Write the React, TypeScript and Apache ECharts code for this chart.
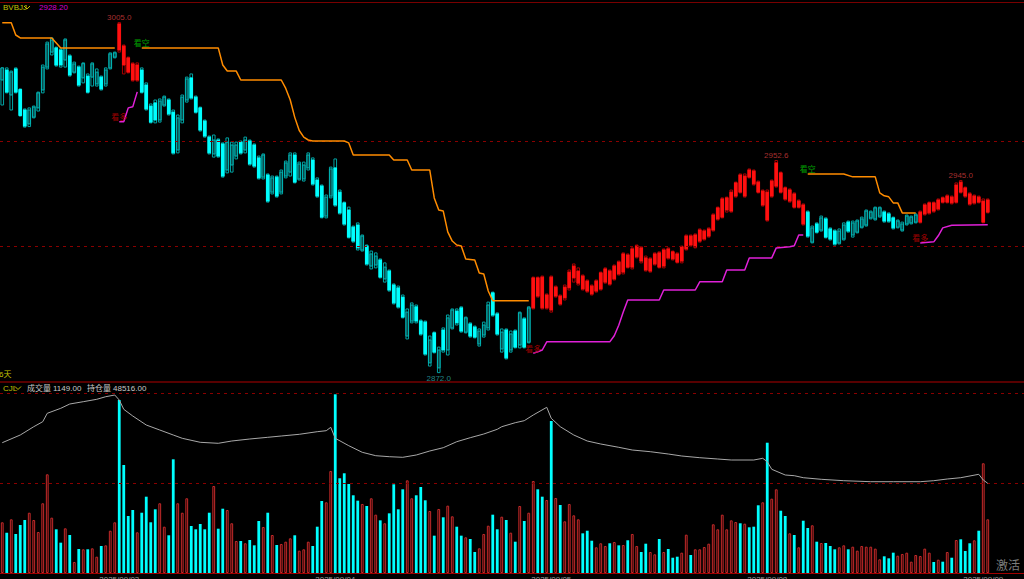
import React, { useEffect, useRef } from "react";
import * as echarts from "echarts";

const dayDates = ["2025/09/02", "2025/09/03", "2025/09/04", "2025/09/05", "2025/09/08", "2025/09/09"];
const dayBarCounts = [26, 48, 48, 48, 48, 2];
const futureSlots = 8;

const opens = [
  2983.2, 2987.0, 2977.5, 2987.4, 2979.6, 2971.8, 2966.5, 2969.1, 2972.6, 2979.4,
  2988.1, 2993.8, 2995.4, 2994.6, 2990.8, 2992.3, 2986.2, 2988.1, 2984.0, 2984.7,
  2984.3, 2981.7, 2984.3, 2981.7, 2987.8, 2991.9, 3004.5, 2996.1, 2991.6, 2989.3,
  2983.2, 2987.0, 2981.3, 2973.3, 2974.5, 2968.0, 2973.7, 2975.6, 2971.0, 2956.6,
  2968.0, 2975.6, 2984.0, 2976.7, 2972.6, 2967.6, 2961.5, 2955.1, 2960.4, 2958.9,
  2949.0, 2950.9, 2954.3, 2959.6, 2956.6, 2960.0, 2958.5, 2953.6, 2946.3, 2947.1,
  2940.6, 2946.3, 2940.6, 2946.7, 2948.2, 2954.7, 2945.6, 2945.6, 2949.8, 2952.8,
  2945.2, 2942.9, 2931.5, 2939.1, 2949.8, 2940.6, 2936.5, 2933.8, 2927.3, 2928.1,
  2918.6, 2920.1, 2912.5, 2912.9, 2914.8, 2907.6, 2910.6, 2905.3, 2904.2, 2900.7,
  2885.9, 2891.6, 2897.0, 2891.6, 2891.2, 2875.7, 2887.1, 2873.8, 2888.2, 2880.6,
  2889.0, 2895.4, 2896.6, 2887.4, 2890.5, 2889.3, 2882.9, 2886.3, 2889.0, 2902.3,
  2894.3, 2881.0, 2888.2, 2880.6, 2887.8, 2882.5, 2892.4, 2883.6, 2896.6, 2908.0,
  2908.3, 2896.6, 2908.3, 2901.1, 2901.1, 2900.4, 2904.2, 2908.0, 2906.0, 2908.7,
  2906.8, 2904.9, 2903.0, 2903.8, 2906.4, 2910.6, 2907.6, 2914.0, 2910.2, 2916.7,
  2912.1, 2916.0, 2919.4, 2915.6, 2910.6, 2913.3, 2917.5, 2912.5, 2919.0, 2917.9,
  2917.1, 2914.4, 2919.0, 2923.9, 2919.8, 2922.0, 2922.8, 2923.9, 2926.2, 2930.4,
  2931.1, 2933.8, 2933.4, 2939.1, 2947.1, 2939.1, 2949.0, 2948.6, 2944.4, 2935.7,
  2940.6, 2939.1, 2942.9, 2947.9, 2942.2, 2937.2, 2939.9, 2934.9, 2935.7, 2933.0,
  2921.6, 2928.5, 2926.2, 2930.4, 2926.6, 2925.8, 2921.3, 2922.8, 2929.2, 2924.3,
  2925.4, 2927.3, 2928.1, 2930.8, 2930.4, 2931.5, 2933.0, 2932.3, 2930.8, 2927.3,
  2926.2, 2928.5, 2928.9, 2929.2, 2929.2, 2932.3, 2932.7, 2936.5, 2934.2, 2938.4,
  2936.8, 2938.7, 2936.8, 2944.4, 2942.2, 2939.9, 2936.5, 2938.7, 2929.2, 2933.0,
];
const closes = [
  2987.8, 2978.6, 2986.2, 2978.6, 2969.7, 2965.7, 2971.8, 2972.9, 2978.3, 2988.1,
  2996.9, 2998.4, 2988.9, 2988.9, 2998.4, 2985.1, 2989.3, 2981.3, 2989.4, 2978.6,
  2989.3, 2986.2, 2979.8, 2987.0, 2993.1, 2993.5, 2994.6, 2988.9, 2986.2, 2983.2,
  2988.9, 2978.6, 2972.2, 2967.2, 2968.0, 2975.2, 2976.7, 2970.3, 2955.5, 2968.8,
  2976.7, 2983.6, 2976.4, 2971.0, 2964.2, 2961.9, 2955.5, 2960.4, 2954.3, 2946.7,
  2959.6, 2958.5, 2958.5, 2955.5, 2960.4, 2951.3, 2950.5, 2946.0, 2954.7, 2937.2,
  2946.0, 2939.1, 2948.2, 2951.7, 2954.7, 2944.4, 2951.3, 2950.9, 2954.7, 2943.7,
  2939.1, 2931.1, 2938.7, 2949.4, 2935.7, 2932.7, 2928.5, 2923.5, 2922.0, 2919.4,
  2923.9, 2913.3, 2917.1, 2916.3, 2908.3, 2912.1, 2903.4, 2898.5, 2897.0, 2893.1,
  2895.0, 2897.7, 2891.6, 2886.7, 2879.1, 2884.4, 2879.8, 2880.6, 2880.6, 2892.8,
  2895.8, 2890.9, 2887.8, 2892.8, 2885.9, 2885.5, 2887.8, 2890.1, 2897.7, 2893.9,
  2886.7, 2887.4, 2877.6, 2886.7, 2881.7, 2894.7, 2881.7, 2896.6, 2908.0, 2901.1,
  2896.6, 2901.5, 2895.8, 2904.5, 2898.1, 2904.5, 2910.2, 2912.5, 2910.6, 2903.8,
  2903.0, 2901.9, 2906.8, 2909.9, 2911.4, 2905.7, 2912.5, 2909.5, 2917.1, 2912.1,
  2919.0, 2920.1, 2914.4, 2911.0, 2915.2, 2917.1, 2912.1, 2918.6, 2915.6, 2915.2,
  2914.0, 2919.8, 2923.9, 2920.5, 2924.3, 2926.2, 2925.8, 2926.6, 2931.9, 2934.6,
  2938.0, 2938.4, 2940.6, 2944.1, 2940.6, 2946.7, 2946.3, 2943.7, 2940.6, 2941.0,
  2930.0, 2944.8, 2951.7, 2940.6, 2938.0, 2941.4, 2934.9, 2937.2, 2928.5, 2923.9,
  2927.0, 2925.4, 2930.8, 2923.5, 2922.8, 2920.9, 2925.8, 2928.1, 2925.8, 2928.9,
  2929.6, 2930.4, 2933.4, 2933.0, 2934.6, 2934.6, 2929.6, 2929.6, 2927.0, 2929.6,
  2928.5, 2931.5, 2931.1, 2931.9, 2933.0, 2935.7, 2936.5, 2933.4, 2937.6, 2936.8,
  2939.1, 2936.5, 2943.3, 2940.6, 2939.1, 2936.1, 2939.1, 2936.8, 2937.2, 2937.6,
];
const lows = [
  2973.7, 2978.3, 2971.8, 2978.3, 2969.5, 2965.3, 2965.5, 2968.8, 2971.4, 2978.3,
  2987.4, 2992.7, 2988.5, 2988.1, 2988.1, 2984.7, 2985.9, 2980.9, 2982.1, 2978.3,
  2980.9, 2980.9, 2979.4, 2980.9, 2987.4, 2991.6, 2993.8, 2985.5, 2985.9, 2982.8,
  2982.8, 2978.3, 2971.8, 2966.9, 2966.9, 2967.2, 2973.3, 2969.9, 2955.1, 2955.5,
  2966.9, 2974.8, 2976.0, 2970.7, 2963.8, 2961.5, 2955.1, 2953.9, 2953.9, 2946.3,
  2947.9, 2948.2, 2953.2, 2955.1, 2955.5, 2950.9, 2950.1, 2945.6, 2945.6, 2936.8,
  2939.9, 2938.7, 2939.9, 2946.0, 2946.7, 2944.1, 2945.2, 2944.8, 2949.0, 2943.3,
  2938.7, 2930.8, 2930.8, 2938.4, 2935.3, 2932.3, 2928.1, 2923.2, 2921.6, 2918.6,
  2918.2, 2912.9, 2911.4, 2911.8, 2908.0, 2906.4, 2903.0, 2898.1, 2896.6, 2892.8,
  2884.8, 2890.9, 2890.9, 2886.3, 2878.7, 2874.5, 2879.5, 2872.0, 2879.8, 2878.7,
  2888.6, 2890.1, 2887.4, 2887.1, 2885.5, 2885.2, 2882.1, 2885.5, 2888.2, 2893.5,
  2886.3, 2879.8, 2877.2, 2879.8, 2881.4, 2881.4, 2881.4, 2883.3, 2896.2, 2900.7,
  2896.2, 2896.2, 2895.0, 2900.7, 2897.7, 2899.6, 2903.4, 2906.4, 2905.3, 2903.4,
  2902.6, 2901.5, 2902.6, 2903.4, 2906.0, 2905.3, 2907.2, 2909.1, 2909.5, 2911.8,
  2911.4, 2915.6, 2913.7, 2910.6, 2910.2, 2912.9, 2911.8, 2911.8, 2915.2, 2914.8,
  2913.7, 2913.7, 2918.6, 2920.1, 2919.4, 2921.6, 2922.4, 2923.5, 2925.8, 2930.0,
  2930.8, 2933.0, 2933.0, 2938.7, 2940.3, 2938.7, 2946.0, 2943.3, 2940.3, 2935.3,
  2929.6, 2938.7, 2942.5, 2940.3, 2937.6, 2936.8, 2934.6, 2934.6, 2928.1, 2923.5,
  2921.3, 2925.1, 2925.8, 2923.2, 2922.4, 2920.5, 2920.9, 2922.4, 2925.4, 2923.5,
  2925.1, 2927.0, 2927.7, 2930.4, 2930.0, 2931.1, 2929.2, 2929.2, 2926.6, 2927.0,
  2925.8, 2928.1, 2928.5, 2928.9, 2928.9, 2931.9, 2932.3, 2933.0, 2933.8, 2936.5,
  2936.5, 2936.1, 2936.5, 2940.3, 2938.7, 2935.7, 2936.1, 2936.5, 2928.9, 2932.7,
];
const highs = [
  2987.8, 2987.8, 2986.6, 2987.8, 2979.8, 2972.2, 2972.6, 2973.3, 2978.6, 2988.9,
  2997.6, 2999.2, 2995.7, 2995.0, 2998.8, 2992.7, 2990.0, 2988.5, 2989.7, 2985.5,
  2989.7, 2987.4, 2984.7, 2987.8, 2993.5, 2993.8, 3005.0, 2996.5, 2991.9, 2989.7,
  2989.7, 2987.8, 2982.1, 2974.1, 2975.6, 2976.0, 2977.1, 2976.0, 2971.8, 2969.9,
  2977.5, 2984.3, 2985.5, 2977.1, 2972.9, 2968.0, 2961.9, 2962.3, 2960.8, 2959.3,
  2961.2, 2959.6, 2959.6, 2960.0, 2961.5, 2960.4, 2958.9, 2954.3, 2955.1, 2947.5,
  2946.7, 2946.7, 2949.0, 2952.4, 2955.5, 2955.5, 2952.0, 2952.0, 2955.5, 2953.6,
  2946.0, 2943.3, 2939.5, 2950.1, 2953.2, 2941.4, 2936.8, 2934.9, 2927.7, 2928.9,
  2924.3, 2920.5, 2918.2, 2917.5, 2915.2, 2913.7, 2911.0, 2905.7, 2904.9, 2901.5,
  2896.2, 2898.5, 2897.7, 2892.0, 2891.6, 2885.9, 2887.4, 2881.7, 2889.0, 2893.9,
  2896.2, 2896.2, 2897.0, 2893.1, 2890.9, 2889.7, 2888.6, 2891.2, 2898.8, 2902.6,
  2894.7, 2888.6, 2888.6, 2887.8, 2888.2, 2895.0, 2892.8, 2897.0, 2908.3, 2908.3,
  2908.7, 2901.9, 2908.7, 2904.9, 2901.5, 2905.3, 2911.0, 2913.3, 2911.8, 2909.1,
  2907.2, 2905.3, 2907.2, 2910.2, 2911.8, 2911.0, 2912.9, 2914.4, 2917.5, 2917.1,
  2919.4, 2920.5, 2919.8, 2916.3, 2915.6, 2917.5, 2917.9, 2919.0, 2919.4, 2918.2,
  2917.5, 2920.1, 2924.3, 2924.3, 2924.7, 2926.6, 2926.2, 2927.0, 2932.3, 2934.9,
  2938.4, 2938.7, 2941.4, 2944.4, 2947.5, 2947.5, 2949.4, 2949.0, 2944.8, 2941.4,
  2941.4, 2945.2, 2952.6, 2948.2, 2942.5, 2941.8, 2940.3, 2937.6, 2936.1, 2933.4,
  2927.7, 2928.9, 2931.5, 2930.8, 2927.0, 2926.2, 2926.6, 2928.9, 2929.6, 2929.6,
  2930.0, 2931.1, 2933.8, 2933.4, 2934.9, 2934.9, 2933.4, 2932.7, 2931.1, 2930.0,
  2929.2, 2931.9, 2931.5, 2932.3, 2933.4, 2936.1, 2936.8, 2936.8, 2938.0, 2938.7,
  2939.5, 2939.1, 2944.1, 2945.0, 2942.5, 2940.3, 2939.5, 2939.1, 2938.0, 2938.0,
];
const volumes = [
  1085, 863, 1149, 835, 1027, 1134, 1290, 1134, 877, 1492,
  2112, 1184, 935, 649, 956, 813, 235, 514, 507, 507,
  528, 349, 578, 592, 905, 1085, 3702, 2311, 1220, 1348,
  871, 1290, 1633, 1085, 1363, 1492, 991, 807, 2433, 1492,
  1290, 1599, 1006, 935, 1049, 935, 1290, 1862, 948, 1376,
  1348, 1064, 685, 685, 636, 706, 592, 1113, 984, 1290,
  813, 599, 621, 670, 742, 807, 478, 507, 670, 578,
  991, 1541, 1513, 2183, 3824, 2027, 2134, 1905, 1663, 1548,
  1477, 1434, 1599, 1248, 1127, 1064, 1277, 1898, 1363, 1791,
  1983, 1599, 1663, 1840, 1556, 1327, 799, 1370, 1192, 1441,
  1213, 991, 799, 764, 728, 449, 528, 835, 1012, 1248,
  935, 1205, 1134, 863, 670, 1434, 1113, 1290, 1969, 1791,
  1633, 1562, 3253, 1605, 1455, 1106, 1477, 1234, 1149, 849,
  905, 691, 550, 636, 578, 636, 663, 592, 599, 700,
  835, 578, 449, 627, 449, 400, 728, 449, 514, 327,
  349, 435, 820, 385, 507, 507, 556, 627, 1042, 935,
  1248, 935, 1127, 1091, 1064, 1055, 978, 991, 1449, 1513,
  2788, 1590, 1791, 1333, 1220, 849, 813, 550, 1119, 963,
  1021, 670, 642, 642, 578, 507, 550, 592, 507, 563,
  478, 578, 563, 563, 521, 293, 357, 314, 435, 370,
  407, 435, 242, 385, 364, 521, 435, 235, 285, 242,
  449, 327, 706, 721, 471, 636, 700, 905, 2348, 1149,
];
// open interest, [bar index, lots]
const openInterest = [
  [0, 52576], [4, 53346], [7, 54176], [9, 54676], [10, 55516], [13, 56016], [15, 56446], [18, 56676],
  [21, 56916], [23, 57176], [25, 57346], [26, 56846], [27, 55916], [29, 55246], [32, 54346], [35, 53846],
  [38, 53346], [40, 53016], [44, 52616], [48, 52516], [51, 52746], [55, 52946], [59, 53116], [62, 53246],
  [66, 53416], [70, 53676], [72, 53776], [73, 54116], [74, 53016], [77, 52276], [80, 51616], [83, 51276],
  [86, 51176], [89, 51116], [92, 51346], [95, 51746], [98, 52076], [101, 52676], [104, 53076], [107, 53446],
  [110, 53916], [111, 54176], [114, 54576], [116, 54776], [118, 55346], [121, 56116], [122, 55016], [124, 54176],
  [127, 53346], [130, 52746], [133, 52446], [137, 52116], [140, 51846], [144, 51676], [148, 51446], [151, 51246],
  [155, 51076], [159, 50946], [162, 50846], [167, 50846], [169, 51016], [170, 50676], [171, 49916], [174, 49346],
  [176, 49276], [178, 49076], [182, 48916], [187, 48776], [193, 48676], [198, 48676], [204, 48676], [207, 48776],
  [210, 48946], [213, 49076], [217, 49416], [218, 48846], [219, 48516],
];
// bullish (看多) bar ranges; other bars are bearish (看空)
const bullRanges = [[26, 30], [118, 178], [204, 219]];
// stop lines, [bar index, price]
const orangeStop1 = [[0, 3005.0], [2, 3005.0], [3, 3000.3], [4, 2999.2], [11, 2999.2], [13, 2995.4], [25, 2995.4]];
const orangeStop2 = [
  [31, 2995.4], [48, 2995.4], [49, 2988.9], [50, 2986.6], [52, 2986.6], [53, 2983.2], [62, 2983.2], [63, 2980.0],
  [64, 2975.6], [65, 2969.0], [66, 2964.0], [67, 2961.5], [68, 2960.4], [69, 2960.0], [76, 2960.0], [77, 2959.3],
  [78, 2954.7], [86, 2954.7], [87, 2952.8], [90, 2952.8], [91, 2949.0], [95, 2949.0], [96, 2938.4], [97, 2933.8],
  [98, 2933.4], [99, 2925.5], [100, 2922.0], [101, 2920.5], [102, 2920.1], [103, 2915.2], [105, 2914.8], [106, 2909.9],
  [107, 2909.5], [108, 2903.0], [109, 2899.3], [117, 2899.3],
];
const orangeStop3 = [
  [179, 2947.5], [187, 2947.5], [189, 2946.4], [194, 2946.4], [195, 2940.3], [196, 2939.2], [197, 2938.8],
  [198, 2936.5], [199, 2936.5], [200, 2932.7], [203, 2932.7],
];
const magentaStop1 = [[26, 2967.3], [27, 2967.3], [28, 2972.6], [29, 2973.0], [30, 2978.7]];
const magentaStop2 = [
  [118, 2879.4], [119, 2879.9], [120, 2880.6], [121, 2883.7], [135, 2883.7], [136, 2886.0], [137, 2890.0],
  [138, 2895.0], [139, 2899.6], [146, 2899.6], [147, 2903.4], [154, 2903.4], [155, 2906.5], [160, 2906.5],
  [161, 2911.0], [165, 2911.0], [166, 2915.6], [171, 2915.6], [172, 2919.4], [175, 2919.8], [176, 2920.2],
  [177, 2924.3], [178, 2924.3],
];
const magentaStop3 = [[204, 2921.3], [207, 2921.7], [208, 2924.0], [209, 2927.0], [211, 2928.0], [219, 2928.2]];
const signalMarks = [
  { idx: 26, price: 2967.3, text: "看多" },
  { idx: 31, price: 2995.4, text: "看空" },
  { idx: 118, price: 2879.4, text: "看多" },
  { idx: 179, price: 2947.5, text: "看空" },
  { idx: 204, price: 2921.3, text: "看多" },
];
const extremeMarks = [
  { idx: 26, price: 3005.0, side: "top" },
  { idx: 97, price: 2872.0, side: "bottom" },
  { idx: 172, price: 2952.6, side: "top" },
  { idx: 213, price: 2945.0, side: "top" },
];
const priceGridLevels = [2960, 2920];
const volumeGridLevels = [3846, 1923];

const FONT = '"Liberation Sans", "Noto Sans CJK SC", sans-serif';

export default function App() {
  const ref = useRef<HTMLDivElement>(null);
  useEffect(() => {
    document.body.style.margin = "0";
    document.body.style.background = "#000";
    const chart = echarts.init(ref.current!, null, { renderer: "svg" });

    const categories: string[] = [];
    dayDates.forEach((d, k) => {
      for (let j = 0; j < dayBarCounts[k]; j++) categories.push(d + "#" + j);
    });
    for (let j = 0; j < futureSlots; j++) categories.push("#f" + j);

    const isBull = (i: number) => bullRanges.some(([a, b]) => i >= a && i <= b);
    const candleData = opens.map((o, i) => [i, o, closes[i], lows[i], highs[i], isBull(i) ? 1 : 0]);

    const volData = volumes.map((v, i) => {
      const up = closes[i] >= opens[i];
      return {
        value: v,
        itemStyle: up
          ? { color: "#1c0000", borderColor: "#c42a2a", borderWidth: 1 }
          : { color: "#00ffff", borderWidth: 0 },
      };
    });

    const stopLine = (data: number[][], color: string, extra: any = {}) => ({
      type: "line",
      xAxisIndex: 0,
      yAxisIndex: 0,
      data,
      showSymbol: false,
      symbol: "none",
      lineStyle: { color, width: 1.5 },
      z: 5,
      silent: true,
      ...extra,
    });

    const lastOI = openInterest[openInterest.length - 1][1];
    const lastMag = magentaStop3[magentaStop3.length - 1][1];

    const option: any = {
      animation: false,
      backgroundColor: "#000",
      textStyle: { fontFamily: FONT },
      grid: [
        { left: 0, top: 2.5, width: 1026, height: 379.5, outerBoundsMode: "none", containLabel: false },
        { left: 0, top: 382, width: 1026, height: 191, outerBoundsMode: "none", containLabel: false },
      ],
      xAxis: [
        { type: "category", gridIndex: 0, data: categories, show: false },
        {
          type: "category",
          gridIndex: 1,
          data: categories,
          axisLine: { show: true, lineStyle: { color: "#a00000", width: 1 } },
          axisTick: { show: false },
          splitLine: { show: false },
          axisLabel: {
            color: "#9a9a9a",
            fontSize: 8,
            margin: 2,
            fontFamily: FONT,
            interval: (idx: number, val: string) => idx > 0 && val.endsWith("#0") && !val.startsWith("#"),
            formatter: (val: string) => val.split("#")[0],
          },
        },
      ],
      yAxis: [
        { type: "value", gridIndex: 0, min: 2868.44, max: 3012.65, show: false },
        { type: "value", gridIndex: 1, min: 0, max: 4087.4, show: false },
        { type: "value", gridIndex: 1, min: 39546, max: 58646, show: false },
      ],
      series: [
        {
          type: "custom",
          xAxisIndex: 0,
          yAxisIndex: 0,
          data: candleData,
          encode: { x: 0, y: [1, 2, 3, 4] },
          z: 3,
          renderItem: (params: any, api: any) => {
            const i = api.value(0);
            const o = api.value(1);
            const c = api.value(2);
            const l = api.value(3);
            const h = api.value(4);
            const bull = api.value(5) === 1;
            const pO = api.coord([i, o]);
            const x = pO[0];
            const yO = pO[1];
            const yC = api.coord([i, c])[1];
            const yL = api.coord([i, l])[1];
            const yH = api.coord([i, h])[1];
            const w = 2.6;
            const bright = bull ? "#ff1010" : "#00ffff";
            const dark = bull ? "#a80000" : "#00a4a4";
            const up = c >= o;
            const top = Math.min(yO, yC);
            const bh = Math.max(Math.abs(yO - yC), 1);
            const hollow = !bull && up;
            return {
              type: "group",
              children: [
                {
                  type: "rect",
                  shape: { x: x - w / 2, y: yH, width: w, height: Math.max(yL - yH, 1) },
                  style: { fill: "#000", stroke: dark, lineWidth: 1 },
                },
                {
                  type: "rect",
                  shape: { x: x - w / 2, y: top, width: w, height: bh },
                  style: hollow
                    ? { fill: "#0a4a4a", stroke: "#00b4b4", lineWidth: 1 }
                    : { fill: bright, stroke: bright, lineWidth: 1 },
                },
              ],
            };
          },
        },
        stopLine(orangeStop1, "#ff8c00", {
          markLine: {
            silent: true,
            symbol: ["none", "none"],
            label: { show: false },
            lineStyle: { color: "#8a0000", type: [3, 4], width: 1 },
            data: priceGridLevels.map((v) => ({ yAxis: v })),
          },
        }),
        stopLine(orangeStop2, "#ff8c00"),
        stopLine(orangeStop3, "#ff8c00"),
        stopLine(magentaStop1, "#e020d8"),
        stopLine(magentaStop2, "#e020d8"),
        stopLine(magentaStop3, "#e020d8"),
        {
          type: "scatter",
          xAxisIndex: 0,
          yAxisIndex: 0,
          symbolSize: 1,
          itemStyle: { color: "rgba(0,0,0,0)" },
          z: 8,
          silent: true,
          data: signalMarks.map((m) => ({
            value: [m.idx, m.price],
            label: {
              show: true,
              position: "inside",
              offset: [0, -4],
              formatter: m.text,
              color: m.text === "看空" ? "#00c800" : "#c80000",
              fontSize: 8,
              fontFamily: FONT,
            },
          })),
        },
        {
          type: "scatter",
          xAxisIndex: 0,
          yAxisIndex: 0,
          symbolSize: 1,
          itemStyle: { color: "rgba(0,0,0,0)" },
          z: 8,
          silent: true,
          data: extremeMarks.map((m) => ({
            value: [m.idx, m.price],
            label: {
              show: true,
              position: m.side,
              distance: 1,
              formatter: m.price.toFixed(1),
              color: m.side === "top" ? "#d23c3c" : "#2aa8a8",
              fontSize: 8,
              fontFamily: FONT,
            },
          })),
        },
        {
          type: "bar",
          xAxisIndex: 1,
          yAxisIndex: 1,
          data: volData,
          barWidth: 2.8,
          silent: true,
          markLine: {
            silent: true,
            symbol: ["none", "none"],
            label: { show: false },
            lineStyle: { color: "#8a0000", type: [3, 4], width: 1 },
            data: volumeGridLevels.map((v) => ({ yAxis: v })),
          },
        },
        {
          type: "line",
          xAxisIndex: 1,
          yAxisIndex: 2,
          data: openInterest,
          showSymbol: false,
          symbol: "none",
          lineStyle: { color: "#a8a8a8", width: 1 },
          z: 6,
          silent: true,
        },
      ],
      graphic: [
        { type: "line", shape: { x1: 0, y1: 2.5, x2: 1024, y2: 2.5 }, style: { stroke: "#780000", lineWidth: 1 } },
        { type: "line", shape: { x1: 0, y1: 382, x2: 1024, y2: 382 }, style: { stroke: "#b00000", lineWidth: 1 } },
        { type: "text", x: 3, y: 7.5, style: { text: "BVBJJ", fill: "#c2c200", fontSize: 8, fontFamily: FONT, verticalAlign: "middle" } },
        { type: "polyline", shape: { points: [[24, 6], [27, 9], [30, 6]] }, style: { stroke: "#c2c200", lineWidth: 1, fill: null } },
        { type: "text", x: 39, y: 7.5, style: { text: lastMag.toFixed(2), fill: "#d000d0", fontSize: 8, fontFamily: FONT, verticalAlign: "middle" } },
        { type: "text", x: -1, y: 374, style: { text: "6天", fill: "#c2c200", fontSize: 8, fontFamily: FONT, verticalAlign: "middle" } },
        { type: "text", x: 3, y: 388, style: { text: "CJL", fill: "#c2c200", fontSize: 8, fontFamily: FONT, verticalAlign: "middle" } },
        { type: "polyline", shape: { points: [[15, 386.5], [18, 389.5], [21, 386.5]] }, style: { stroke: "#c2c200", lineWidth: 1, fill: null } },
        { type: "text", x: 27, y: 388, style: { text: "成交量", fill: "#c8c8c8", fontSize: 8, fontFamily: FONT, verticalAlign: "middle" } },
        { type: "text", x: 53, y: 388, style: { text: volumes[volumes.length - 1].toFixed(2), fill: "#c8c8c8", fontSize: 8, fontFamily: FONT, verticalAlign: "middle" } },
        { type: "text", x: 87, y: 388, style: { text: "持仓量", fill: "#c8c8c8", fontSize: 8, fontFamily: FONT, verticalAlign: "middle" } },
        { type: "text", x: 113, y: 388, style: { text: lastOI.toFixed(2), fill: "#c8c8c8", fontSize: 8, fontFamily: FONT, verticalAlign: "middle" } },
        { type: "text", x: 996, y: 566, style: { text: "激活", fill: "#7c7c7c", fontSize: 12, fontFamily: FONT, verticalAlign: "middle" } },
      ],
    };
    chart.setOption(option);
    return () => chart.dispose();
  }, []);
  return <div ref={ref} style={{ width: 1024, height: 579, background: "#000" }} />;
}
